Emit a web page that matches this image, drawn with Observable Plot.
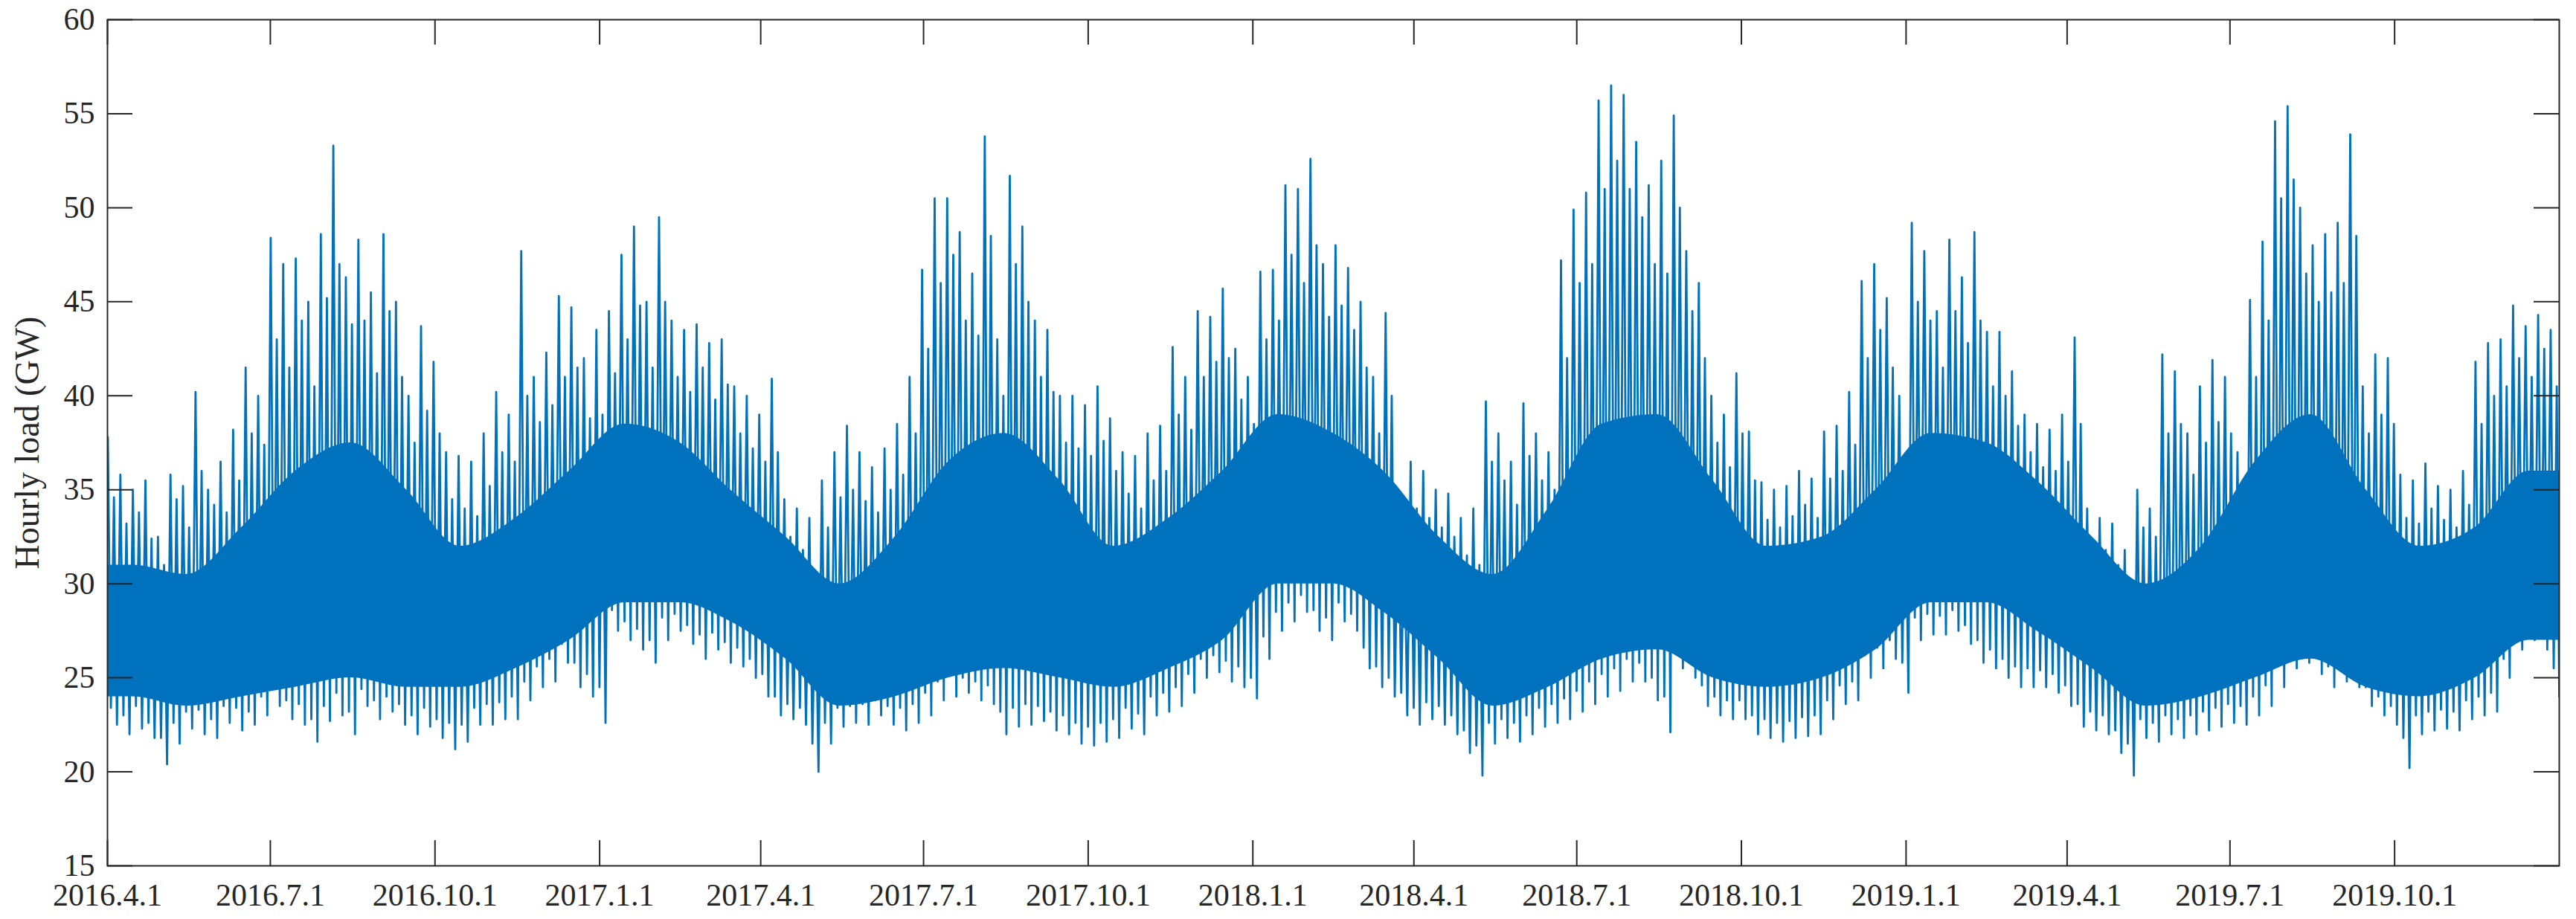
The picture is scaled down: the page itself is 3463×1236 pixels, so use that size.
<!DOCTYPE html>
<html>
<head>
<meta charset="utf-8">
<script src="https://cdn.jsdelivr.net/npm/d3@7"></script>
<script src="https://cdn.jsdelivr.net/npm/@observablehq/plot@0.6"></script>
<style>
  html, body { margin: 0; padding: 0; background: #ffffff; }
</style>
</head>
<body>
<div id="chart"></div>
<script>
// ---- data ----
const startDate = "2016-04-01";
const endDate = "2020-01-01";
const xTickLabels = ["2016.4.1","2016.7.1","2016.10.1","2017.1.1","2017.4.1","2017.7.1","2017.10.1",
  "2018.1.1","2018.4.1","2018.7.1","2018.10.1","2019.1.1","2019.4.1","2019.7.1","2019.10.1"];
const yTicks = [15, 20, 25, 30, 35, 40, 45, 50, 55, 60];
const yLabel = "Hourly load (GW)";

// weekly maximum of hourly load (GW), one value per week from 2016.4.1
const weeklyPeak = [
  37.8, 35.8, 35.0, 35.5, 32.5, 35.8, 35.2, 40.2, 35.0, 36.5,
  38.2, 41.5, 40.0, 48.4, 47.0, 47.3, 45.0, 48.6, 53.3, 46.3,
  48.3, 45.5, 48.6, 45.0, 40.0, 43.7, 41.8, 37.0, 36.8, 36.5,
  38.0, 40.2, 39.0, 47.7, 41.0, 42.3, 45.3, 44.7, 42.0, 43.5,
  44.5, 47.5, 49.0, 45.0, 49.5, 44.0, 43.5, 43.8, 42.8, 43.0,
  40.5, 40.0, 39.0, 40.9, 34.5, 34.0, 33.5, 35.5, 37.0, 38.4,
  37.0, 36.2, 37.2, 38.5, 41.0, 46.7, 50.5, 50.5, 48.7, 46.5,
  53.8, 43.0, 51.7, 49.0, 44.0, 43.5, 40.0, 40.0, 39.5, 40.5,
  38.8, 37.0, 36.8, 38.0, 38.4, 42.6, 41.0, 44.5, 44.2, 45.7,
  42.5, 41.0, 46.6, 46.7, 51.2, 51.0, 52.6, 47.0, 48.0, 46.8,
  45.0, 41.0, 44.4, 35.0, 36.5, 36.0, 35.0, 34.8, 33.5, 34.0,
  39.7, 38.0, 36.5, 39.6, 38.0, 37.0, 47.2, 49.9, 50.8, 55.7,
  56.5, 56.0, 53.5, 51.2, 52.5, 54.9, 47.7, 46.0, 40.0, 39.0,
  41.2, 38.1, 35.4, 35.0, 35.2, 36.0, 35.6, 38.1, 38.4, 40.2,
  46.1, 47.0, 45.2, 40.0, 49.2, 47.7, 44.5, 48.3, 46.3, 48.7,
  43.4, 43.4, 41.3, 39.0, 38.5, 38.2, 39.0, 43.1, 34.0, 33.5,
  33.2, 31.8, 35.0, 34.0, 42.2, 41.3, 38.0, 40.5, 41.9, 41.0,
  37.0, 45.1, 48.2, 54.6, 55.4, 50.0, 48.0, 48.6, 49.2, 53.9,
  40.5, 42.2, 42.0, 35.8, 35.5, 36.4, 35.2, 35.0, 36.0, 41.8,
  42.8, 43.0, 44.8, 43.7, 44.3, 43.5
];
// second-highest daily peak in each week (GW)
const weeklyHigh2 = [
  34.6, 33.2, 33.8, 32.4, 31.0, 34.5, 33.0, 36.0, 34.2, 33.8,
  35.5, 38.0, 37.4, 43.0, 41.5, 44.0, 40.5, 45.2, 47.0, 43.8,
  44.0, 41.2, 44.5, 41.0, 37.5, 39.2, 38.0, 34.5, 34.0, 33.6,
  35.2, 37.0, 36.5, 40.0, 38.6, 39.5, 41.0, 41.5, 38.8, 39.0,
  41.2, 43.0, 44.8, 41.5, 45.0, 41.0, 40.2, 41.5, 39.8, 40.6,
  38.0, 37.2, 36.5, 37.0, 32.5, 31.8, 30.5, 33.0, 34.6, 35.0,
  34.4, 33.8, 35.0, 35.8, 38.0, 42.5, 46.0, 47.5, 44.0, 43.2,
  48.5, 40.0, 47.0, 45.0, 41.0, 40.2, 37.5, 37.2, 36.8, 37.6,
  36.0, 34.8, 34.0, 35.5, 36.0, 39.0, 38.2, 41.0, 41.8, 42.0,
  39.8, 38.5, 43.0, 44.0, 47.5, 46.0, 48.0, 44.2, 44.8, 43.5,
  41.5, 38.0, 40.0, 33.0, 34.0, 33.5, 33.0, 32.5, 31.5, 31.0,
  36.5, 35.5, 34.2, 36.8, 35.5, 35.0, 42.0, 46.0, 47.0, 51.0,
  52.5, 51.0, 49.5, 47.0, 46.5, 50.0, 44.5, 42.0, 37.5, 36.2,
  38.0, 35.5, 33.4, 33.0, 33.6, 34.2, 33.5, 35.6, 36.0, 37.4,
  42.0, 43.5, 41.5, 36.0, 45.0, 44.0, 41.5, 44.5, 42.8, 44.0,
  40.5, 40.0, 38.4, 37.0, 36.2, 36.0, 36.5, 38.5, 32.0, 31.8,
  31.0, 30.0, 33.0, 32.5, 38.0, 38.5, 35.8, 37.5, 38.6, 38.0,
  35.0, 41.0, 44.0, 50.5, 51.5, 46.5, 45.0, 45.5, 46.0, 48.5,
  38.0, 39.0, 38.5, 33.5, 33.2, 34.0, 33.4, 33.0, 34.2, 38.5,
  40.0, 40.5, 42.0, 41.0, 42.5, 40.5
];
// weekly minimum of hourly load (GW)
const weeklyTrough = [
  22.5, 22.0, 22.3, 21.8, 20.4, 21.5, 22.3, 22.0, 21.8, 22.6,
  22.2, 22.5, 23.0, 23.5, 22.8, 22.5, 21.6, 22.7, 23.0, 22.0,
  23.5, 22.8, 23.2, 22.5, 22.0, 22.4, 21.8, 21.2, 21.6, 22.5,
  22.5, 22.8, 22.8, 23.8, 24.5, 24.8, 25.8, 24.5, 24.0, 22.6,
  27.5, 27.0, 26.5, 25.8, 27.0, 27.5, 26.8, 26.0, 26.5, 25.8,
  25.6, 25.0, 24.0, 23.0, 22.8, 22.5, 20.0, 21.5, 22.4, 22.6,
  22.5, 23.0, 22.5, 22.2, 22.6, 23.0, 23.8, 24.0, 24.2, 23.8,
  23.6, 22.0, 22.4, 22.5, 22.7, 22.2, 22.0, 21.5, 21.4, 21.6,
  21.8, 22.3, 22.0, 23.0, 23.2, 23.5, 24.2, 25.0, 25.3, 24.8,
  24.5, 23.9, 26.0, 27.5, 28.0, 28.5, 27.5, 27.0, 28.0, 27.5,
  25.5, 24.5, 24.0, 23.0, 22.5, 22.8, 22.5, 22.0, 21.0, 19.8,
  21.5, 21.8, 21.6, 22.0, 22.4, 22.6, 22.8, 23.2, 23.6, 24.0,
  24.3, 24.8, 24.8, 23.8, 22.1, 25.5, 25.0, 23.5, 23.0, 22.8,
  22.8, 22.0, 21.8, 21.6, 21.8, 21.9, 22.0, 22.8, 23.6, 23.8,
  25.0, 25.5, 26.0, 24.2, 27.0, 27.3, 27.3, 27.5, 26.8, 25.8,
  25.5, 25.0, 24.5, 24.5, 24.5, 24.2, 23.5, 22.4, 22.2, 22.0,
  21.0, 19.8, 21.8, 21.6, 22.0, 21.8, 22.0, 22.2, 22.4, 22.6,
  22.5, 23.0, 23.5, 24.5, 25.5, 25.8, 25.2, 24.5, 24.8, 24.5,
  23.5, 23.0, 22.5, 20.2, 22.0, 22.2, 22.3, 22.2, 22.8, 23.0,
  23.2, 25.0, 26.5, 27.0, 26.5, 24.0
];
// second-lowest nightly trough in each week (GW)
const weeklyLow2 = [
  23.4, 23.0, 23.5, 22.6, 21.8, 22.6, 23.2, 23.3, 22.8, 23.5,
  23.4, 23.2, 24.0, 24.6, 23.8, 23.6, 22.8, 23.5, 24.2, 23.2,
  24.4, 23.8, 24.0, 23.6, 23.0, 23.4, 22.8, 22.6, 22.5, 23.4,
  23.6, 23.7, 24.0, 24.8, 25.6, 26.0, 26.8, 25.8, 25.2, 24.5,
  28.6, 28.0, 27.6, 27.0, 28.2, 28.4, 27.8, 27.3, 27.4, 26.9,
  26.6, 26.0, 25.2, 24.0, 23.6, 23.4, 21.5, 22.6, 23.4, 23.5,
  23.6, 23.8, 23.5, 23.4, 23.6, 24.2, 24.8, 25.1, 25.0, 24.8,
  24.6, 23.2, 23.4, 23.6, 23.5, 23.2, 23.0, 22.6, 22.4, 22.6,
  22.8, 23.4, 23.1, 24.0, 24.2, 24.5, 25.2, 26.0, 26.2, 25.9,
  25.6, 25.0, 27.2, 28.5, 29.0, 29.4, 28.6, 28.2, 29.0, 28.4,
  26.6, 25.6, 25.0, 24.2, 23.4, 23.7, 23.5, 23.0, 22.2, 21.4,
  22.6, 22.8, 22.6, 23.0, 23.4, 23.6, 23.9, 24.3, 24.8, 25.2,
  25.5, 26.0, 25.8, 25.0, 24.0, 26.5, 26.0, 24.6, 24.0, 23.8,
  23.8, 23.0, 22.8, 22.6, 22.7, 22.9, 23.0, 23.8, 24.6, 24.8,
  26.2, 26.6, 27.0, 25.8, 28.2, 28.4, 28.3, 28.6, 27.8, 27.0,
  26.5, 26.0, 25.6, 25.5, 25.4, 25.2, 24.6, 23.6, 23.2, 23.0,
  22.2, 21.5, 22.8, 22.6, 23.0, 22.8, 23.0, 23.2, 23.4, 23.6,
  23.5, 24.0, 24.6, 25.6, 26.5, 26.8, 26.2, 25.6, 25.8, 25.6,
  24.5, 24.0, 23.5, 21.8, 23.0, 23.2, 23.3, 23.2, 23.8, 24.0,
  24.2, 26.0, 27.5, 28.0, 27.6, 25.5
];
// months and the dense core band (GW) of the hourly trace in each month
const months = [
  "2016-04","2016-05","2016-06","2016-07","2016-08","2016-09","2016-10","2016-11","2016-12",
  "2017-01","2017-02","2017-03","2017-04","2017-05","2017-06","2017-07","2017-08","2017-09","2017-10","2017-11","2017-12",
  "2018-01","2018-02","2018-03","2018-04","2018-05","2018-06","2018-07","2018-08","2018-09","2018-10","2018-11","2018-12",
  "2019-01","2019-02","2019-03","2019-04","2019-05","2019-06","2019-07","2019-08","2019-09","2019-10","2019-11","2019-12"
];
const bodyTop = [
  31, 30.5, 33, 36, 37.5, 35, 32, 33.5, 36,
  38.5, 37.5, 35, 32.5, 30, 32.5, 36.5, 38, 35.5, 32, 33.5, 36,
  39, 38, 36, 32.5, 30.5, 34, 38.5, 39, 35.5, 32, 32.5, 35,
  38, 37.5, 35.5, 32.5, 30, 32, 36.5, 39, 35, 32, 33, 36
];
const bodyBottom = [
  24, 23.5, 24, 24.5, 25, 24.5, 24.5, 25.5, 27,
  29, 29, 28, 26, 23.5, 24, 25, 25.5, 25, 24.5, 25.5, 27,
  30, 30, 28.5, 26, 23.5, 24.5, 26, 26.5, 25, 24.5, 25, 26.5,
  29, 29, 27.5, 25.5, 23.5, 24, 25, 26, 24.5, 24, 25, 27
];

// ---- build tables ----
const DAY = 864e5;
const t0 = new Date(startDate + "T00:00:00Z");
const tEnd = new Date(endDate + "T00:00:00Z");
const nDays = (tEnd - t0) / DAY;
const at = days => new Date(t0.getTime() + Math.min(days, nDays) * DAY);

const trace = [];
weeklyPeak.forEach((v, i) => {
  trace.push({t: at(7 * i + 0.2), v});
  trace.push({t: at(7 * i + 1.9), v: weeklyLow2[i]});
  trace.push({t: at(7 * i + 3.6), v: weeklyHigh2[i]});
  trace.push({t: at(7 * i + 5.3), v: weeklyTrough[i]});
});

const body = months.map((m, i) => ({
  t: new Date(m + "-15T00:00:00Z"), hi: bodyTop[i], lo: bodyBottom[i]
}));
body.unshift({t: t0, hi: bodyTop[0], lo: bodyBottom[0]});
body.push({t: tEnd, hi: bodyTop[bodyTop.length - 1], lo: bodyBottom[bodyBottom.length - 1]});

const xTickDates = xTickLabels.map(s => {
  const [y, m, d] = s.split(".").map(Number);
  return new Date(Date.UTC(y, m - 1, d));
});
const labelOf = new Map(xTickDates.map((d, i) => [+d, xTickLabels[i]]));

// ---- layout ----
const W = 3463, H = 1236;
const mL = 144, mR = 23, mT = 26, mB = 72;
const plotW = W - mL - mR, plotH = H - mT - mB;
const tickLen = 34;
const blue = "#0072BD", ink = "#262626";
const serif = "'Liberation Serif','Times New Roman',Times,serif";

const chart = Plot.plot({
  width: W, height: H,
  marginLeft: mL, marginRight: mR, marginTop: mT, marginBottom: mB,
  style: {fontFamily: serif, fontSize: "42px", color: ink, background: "#ffffff"},
  x: {type: "utc", domain: [t0, tEnd]},
  y: {domain: [15, 60]},
  marks: [
    Plot.areaY(body, {x: "t", y1: "lo", y2: "hi", fill: blue, curve: "monotone-x"}),
    Plot.line(trace, {x: "t", y: "v", stroke: blue, strokeWidth: 2.8, clip: true}),
    Plot.ruleY(yTicks, {y: d => d, stroke: ink, strokeWidth: 2, insetRight: plotW - tickLen}),
    Plot.ruleY(yTicks, {y: d => d, stroke: ink, strokeWidth: 2, insetLeft: plotW - tickLen}),
    Plot.ruleX(xTickDates, {x: d => d, stroke: ink, strokeWidth: 2, insetTop: plotH - tickLen}),
    Plot.ruleX(xTickDates, {x: d => d, stroke: ink, strokeWidth: 2, insetBottom: plotH - tickLen}),
    Plot.axisY({ticks: yTicks, tickSize: 0, tickPadding: 17, label: null, fontSize: 42, fill: ink}),
    Plot.axisX({ticks: xTickDates, tickSize: 0, tickPadding: 24, label: null, fontSize: 42, fill: ink,
      tickFormat: d => labelOf.get(+d)}),
    Plot.frame({stroke: ink, strokeWidth: 2}),
    Plot.text([yLabel], {text: d => d, frameAnchor: "left", dx: -107, rotate: -90,
      fontSize: 46, fill: ink, textAnchor: "middle", lineAnchor: "middle"})
  ]
});
document.getElementById("chart").appendChild(chart);
</script>
</body>
</html>
